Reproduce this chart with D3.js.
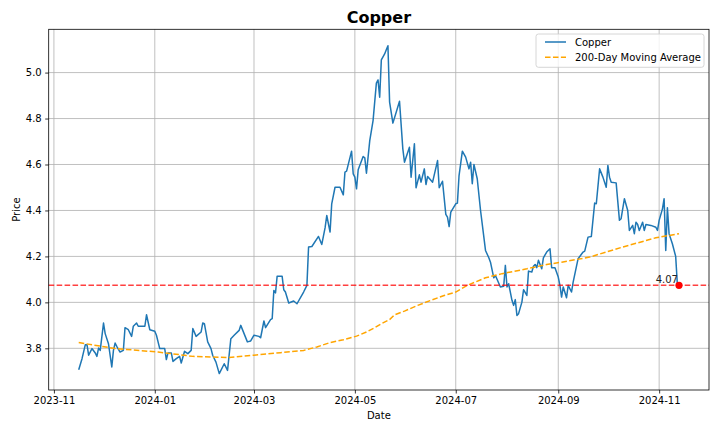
<!DOCTYPE html>
<html>
<head>
<meta charset="utf-8">
<script src="https://cdn.jsdelivr.net/npm/d3@7"></script>
<style>
  body { margin: 0; background: #fff; }
  text { font-family: 'DejaVu Sans', sans-serif; }
</style>
</head>
<body>
<div class="chart-container"></div>
<script>
// Data
const copperDates = [
  '2023-11-16','2023-11-18','2023-11-20','2023-11-21','2023-11-22','2023-11-24','2023-11-26','2023-11-27','2023-11-28','2023-11-29',
  '2023-12-01','2023-12-02','2023-12-04','2023-12-06','2023-12-07','2023-12-08','2023-12-09','2023-12-11','2023-12-13','2023-12-14',
  '2023-12-16','2023-12-18','2023-12-19','2023-12-21','2023-12-22','2023-12-26','2023-12-27','2023-12-29','2024-01-01','2024-01-02',
  '2024-01-04','2024-01-07','2024-01-08','2024-01-09','2024-01-11','2024-01-12','2024-01-14','2024-01-16','2024-01-17','2024-01-19',
  '2024-01-21','2024-01-23','2024-01-24','2024-01-26','2024-01-29','2024-01-30','2024-01-31','2024-02-02','2024-02-04','2024-02-05',
  '2024-02-07','2024-02-09','2024-02-12','2024-02-14','2024-02-16','2024-02-18','2024-02-21','2024-02-22','2024-02-26','2024-02-28',
  '2024-03-01','2024-03-04','2024-03-05','2024-03-07','2024-03-08','2024-03-11','2024-03-12','2024-03-13','2024-03-14','2024-03-15',
  '2024-03-18','2024-03-19','2024-03-20','2024-03-22','2024-03-25','2024-03-27','2024-03-31','2024-04-02','2024-04-03','2024-04-05',
  '2024-04-09','2024-04-11','2024-04-13','2024-04-14','2024-04-16','2024-04-17','2024-04-19','2024-04-22','2024-04-24','2024-04-25',
  '2024-04-26','2024-04-29','2024-04-30','2024-05-01','2024-05-02','2024-05-03','2024-05-06','2024-05-07','2024-05-08','2024-05-10',
  '2024-05-12','2024-05-14','2024-05-15','2024-05-16','2024-05-17','2024-05-19','2024-05-20','2024-05-21','2024-05-22','2024-05-24',
  '2024-05-28','2024-05-30','2024-05-31','2024-06-03','2024-06-04','2024-06-06','2024-06-07','2024-06-09','2024-06-10','2024-06-12',
  '2024-06-13','2024-06-14','2024-06-17','2024-06-20','2024-06-21','2024-06-23','2024-06-25','2024-06-26','2024-06-27','2024-06-28',
  '2024-07-01','2024-07-02','2024-07-03','2024-07-05','2024-07-07','2024-07-09','2024-07-10','2024-07-11','2024-07-12','2024-07-14',
  '2024-07-16','2024-07-19','2024-07-21','2024-07-22','2024-07-24','2024-07-25','2024-07-28','2024-07-30','2024-07-31','2024-08-01',
  '2024-08-02','2024-08-04','2024-08-05','2024-08-06','2024-08-07','2024-08-08','2024-08-10','2024-08-11','2024-08-13','2024-08-14',
  '2024-08-16','2024-08-17','2024-08-18','2024-08-19','2024-08-20','2024-08-22','2024-08-23','2024-08-25','2024-08-27','2024-08-28',
  '2024-08-30','2024-09-01','2024-09-02','2024-09-03','2024-09-04','2024-09-06','2024-09-07','2024-09-09','2024-09-10','2024-09-12',
  '2024-09-13','2024-09-16','2024-09-17','2024-09-19','2024-09-21','2024-09-23','2024-09-24','2024-09-26','2024-09-28','2024-09-30',
  '2024-10-01','2024-10-02','2024-10-03','2024-10-06','2024-10-08','2024-10-09','2024-10-11','2024-10-13','2024-10-14','2024-10-16',
  '2024-10-17','2024-10-18','2024-10-19','2024-10-20','2024-10-22','2024-10-23','2024-10-24','2024-10-27','2024-10-30','2024-10-31',
  '2024-11-01','2024-11-03','2024-11-04','2024-11-05','2024-11-06','2024-11-07','2024-11-09','2024-11-11','2024-11-12','2024-11-13'
];

const copperPrices = [
  3.707,3.755,3.816,3.816,3.770,3.799,3.780,3.765,3.801,3.791,
  3.910,3.864,3.820,3.719,3.791,3.823,3.809,3.784,3.791,3.890,
  3.881,3.852,3.896,3.910,3.896,3.896,3.946,3.881,3.874,3.857,
  3.799,3.799,3.751,3.780,3.780,3.743,3.755,3.765,3.736,3.787,
  3.777,3.791,3.886,3.852,3.871,3.910,3.907,3.828,3.799,3.770,
  3.740,3.690,3.733,3.704,3.842,3.857,3.878,3.900,3.828,3.832,
  3.857,3.852,3.846,3.919,3.890,3.925,3.929,4.052,4.041,4.114,
  4.114,4.055,4.045,3.997,4.006,3.994,4.045,4.074,4.241,4.243,
  4.287,4.252,4.325,4.378,4.306,4.429,4.501,4.501,4.468,4.567,
  4.571,4.658,4.559,4.545,4.494,4.577,4.635,4.629,4.562,4.704,
  4.791,4.954,4.968,4.893,5.055,5.081,5.099,5.117,4.871,4.780,
  4.875,4.668,4.610,4.675,4.545,4.690,4.499,4.555,4.523,4.581,
  4.513,4.548,4.523,4.617,4.499,4.527,4.383,4.371,4.330,4.393,
  4.429,4.432,4.552,4.658,4.632,4.581,4.610,4.516,4.600,4.538,
  4.400,4.226,4.194,4.175,4.107,4.117,4.067,4.070,4.161,4.067,
  4.081,4.009,3.987,4.012,3.943,3.951,4.001,4.055,4.030,4.136,
  4.132,4.157,4.165,4.151,4.183,4.146,4.194,4.219,4.233,4.151,
  4.151,4.110,4.074,4.023,4.067,4.020,4.074,4.045,4.088,4.157,
  4.190,4.219,4.223,4.284,4.287,4.432,4.429,4.581,4.545,4.501,
  4.596,4.545,4.523,4.520,4.357,4.364,4.451,4.400,4.313,4.335,
  4.299,4.349,4.339,4.313,4.349,4.313,4.339,4.335,4.327,4.313,
  4.357,4.407,4.451,4.226,4.412,4.299,4.255,4.200,4.081,4.074
];

const maDates = [
  '2023-11-16','2023-12-08','2024-01-03','2024-01-24','2024-02-15','2024-03-01','2024-03-17','2024-03-31',
  '2024-04-08','2024-04-16','2024-04-24','2024-05-02','2024-05-08','2024-05-13','2024-05-17','2024-05-22',
  '2024-05-25','2024-05-31','2024-06-08','2024-06-16','2024-06-24','2024-07-01','2024-07-08','2024-07-19',
  '2024-07-29','2024-08-13','2024-08-25','2024-09-03','2024-09-20','2024-10-10','2024-10-30','2024-11-13'
];

const maValues = [
  3.825,3.799,3.784,3.765,3.760,3.770,3.781,3.791,
  3.806,3.825,3.837,3.853,3.871,3.890,3.907,3.925,
  3.946,3.962,3.987,4.009,4.030,4.045,4.074,4.107,
  4.125,4.146,4.165,4.175,4.197,4.241,4.281,4.299
];

const xTickLabels = ['2023-11', '2024-01', '2024-03', '2024-05', '2024-07', '2024-09', '2024-11'];
const yTickValues = [3.8, 4.0, 4.2, 4.4, 4.6, 4.8, 5.0];

const parseDate = d3.timeParse('%Y-%m-%d');
const parseMonth = d3.timeParse('%Y-%m');

const copper = copperDates.map((d, i) => ({ date: parseDate(d), value: copperPrices[i] }));
const movingAvg = maDates.map((d, i) => ({ date: parseDate(d), value: maValues[i] }));
const last = copper[copper.length - 1];

// Margin Convention
const W = 720, H = 432;
const margin = { top: 29.3, right: 11, bottom: 42, left: 48.7 };
const width = W - margin.left - margin.right;
const height = H - margin.top - margin.bottom;

// Scales (matplotlib-like 5% padding)
const xExt = d3.extent(copper, d => d.date);
const xPad = (xExt[1] - xExt[0]) * 0.05;
const xScale = d3.scaleTime()
    .domain([new Date(+xExt[0] - xPad), new Date(+xExt[1] + xPad)])
    .range([0, width]);

const yExt = d3.extent(copper, d => d.value);
const yPad = (yExt[1] - yExt[0]) * 0.05;
const yScale = d3.scaleLinear()
    .domain([yExt[0] - yPad, yExt[1] + yPad])
    .range([height, 0]);

const svg = d3.select('.chart-container')
    .append('svg')
    .attr('width', W)
    .attr('height', H);

const g = svg.append('g')
    .attr('transform', `translate(${margin.left},${margin.top})`);

// Grid
const xTicks = xTickLabels.map(parseMonth);

g.append('g')
    .selectAll('line')
    .data(xTicks)
    .join('line')
    .attr('x1', d => xScale(d)).attr('x2', d => xScale(d))
    .attr('y1', 0).attr('y2', height)
    .attr('stroke', '#b0b0b0').attr('stroke-width', 0.8);

g.append('g')
    .selectAll('line')
    .data(yTickValues)
    .join('line')
    .attr('x1', 0).attr('x2', width)
    .attr('y1', d => yScale(d)).attr('y2', d => yScale(d))
    .attr('stroke', '#b0b0b0').attr('stroke-width', 0.8);

// Axes
const xAxis = d3.axisBottom(xScale)
    .tickValues(xTicks)
    .tickFormat(d3.timeFormat('%Y-%m'))
    .tickSizeInner(3.5)
    .tickSizeOuter(0)
    .tickPadding(3.5);

const yAxis = d3.axisLeft(yScale)
    .tickValues(yTickValues)
    .tickFormat(d3.format('.1f'))
    .tickSizeInner(3.5)
    .tickSizeOuter(0)
    .tickPadding(3.5);

const xAxisDraw = g.append('g')
    .attr('transform', `translate(0,${height})`)
    .call(xAxis);

const yAxisDraw = g.append('g')
    .call(yAxis);

[xAxisDraw, yAxisDraw].forEach(ax => {
    ax.select('.domain').remove();
    ax.selectAll('.tick line').attr('stroke', '#000').attr('stroke-width', 0.8);
    ax.selectAll('.tick text')
        .attr('fill', '#000')
        .style('font-size', '10px')
        .style('font-family', "'DejaVu Sans', sans-serif");
});

// Lines
const line = d3.line()
    .x(d => xScale(d.date))
    .y(d => yScale(d.value));

const plot = g.append('g');

plot.append('path')
    .datum(copper)
    .attr('d', line)
    .attr('fill', 'none')
    .attr('stroke', '#1f77b4')
    .attr('stroke-width', 1.5)
    .attr('stroke-linejoin', 'round');

plot.append('path')
    .datum(movingAvg)
    .attr('d', line)
    .attr('fill', 'none')
    .attr('stroke', 'orange')
    .attr('stroke-width', 1.5)
    .attr('stroke-dasharray', '5.55,2.4');

// Last price reference
plot.append('line')
    .attr('x1', 0).attr('x2', width)
    .attr('y1', yScale(last.value)).attr('y2', yScale(last.value))
    .attr('stroke', 'red')
    .attr('stroke-opacity', 0.75)
    .attr('stroke-width', 1.5)
    .attr('stroke-dasharray', '5.55,2.4');

plot.append('circle')
    .attr('cx', xScale(last.date))
    .attr('cy', yScale(last.value))
    .attr('r', 3.6)
    .attr('fill', 'red');

plot.append('text')
    .attr('x', xScale(last.date) - 1)
    .attr('y', yScale(last.value) - 2)
    .attr('text-anchor', 'end')
    .attr('fill', '#222')
    .style('font-size', '10px')
    .text(d3.format('.2f')(last.value));

// Frame
g.append('rect')
    .attr('width', width)
    .attr('height', height)
    .attr('fill', 'none')
    .attr('stroke', '#000')
    .attr('stroke-width', 0.8);

// Title and labels
svg.append('text')
    .attr('x', margin.left + width / 2)
    .attr('y', 23)
    .attr('text-anchor', 'middle')
    .style('font-size', '16px')
    .style('font-weight', 'bold')
    .text('Copper');

svg.append('text')
    .attr('x', margin.left + width / 2)
    .attr('y', 419)
    .attr('text-anchor', 'middle')
    .style('font-size', '10px')
    .text('Date');

svg.append('text')
    .attr('transform', `translate(19.5,${margin.top + height / 2}) rotate(-90)`)
    .attr('text-anchor', 'middle')
    .style('font-size', '10px')
    .text('Price');

// Legend
const legend = svg.append('g').attr('transform', 'translate(536,34)');

legend.append('rect')
    .attr('width', 168)
    .attr('height', 33.3)
    .attr('rx', 2.5)
    .attr('fill', '#fff')
    .attr('fill-opacity', 0.8)
    .attr('stroke', '#cccccc')
    .attr('stroke-width', 0.8);

const legendItems = [
    { label: 'Copper', color: '#1f77b4', dash: null },
    { label: '200-Day Moving Average', color: 'orange', dash: '5.55,2.4' }
];

legendItems.forEach((item, i) => {
    const y = 8 + i * 15.3;
    legend.append('line')
        .attr('x1', 9).attr('x2', 30)
        .attr('y1', y).attr('y2', y)
        .attr('stroke', item.color)
        .attr('stroke-width', 1.5)
        .attr('stroke-dasharray', item.dash);
    legend.append('text')
        .attr('x', 39)
        .attr('y', y + 3.5)
        .style('font-size', '10px')
        .text(item.label);
});
</script>
</body>
</html>
